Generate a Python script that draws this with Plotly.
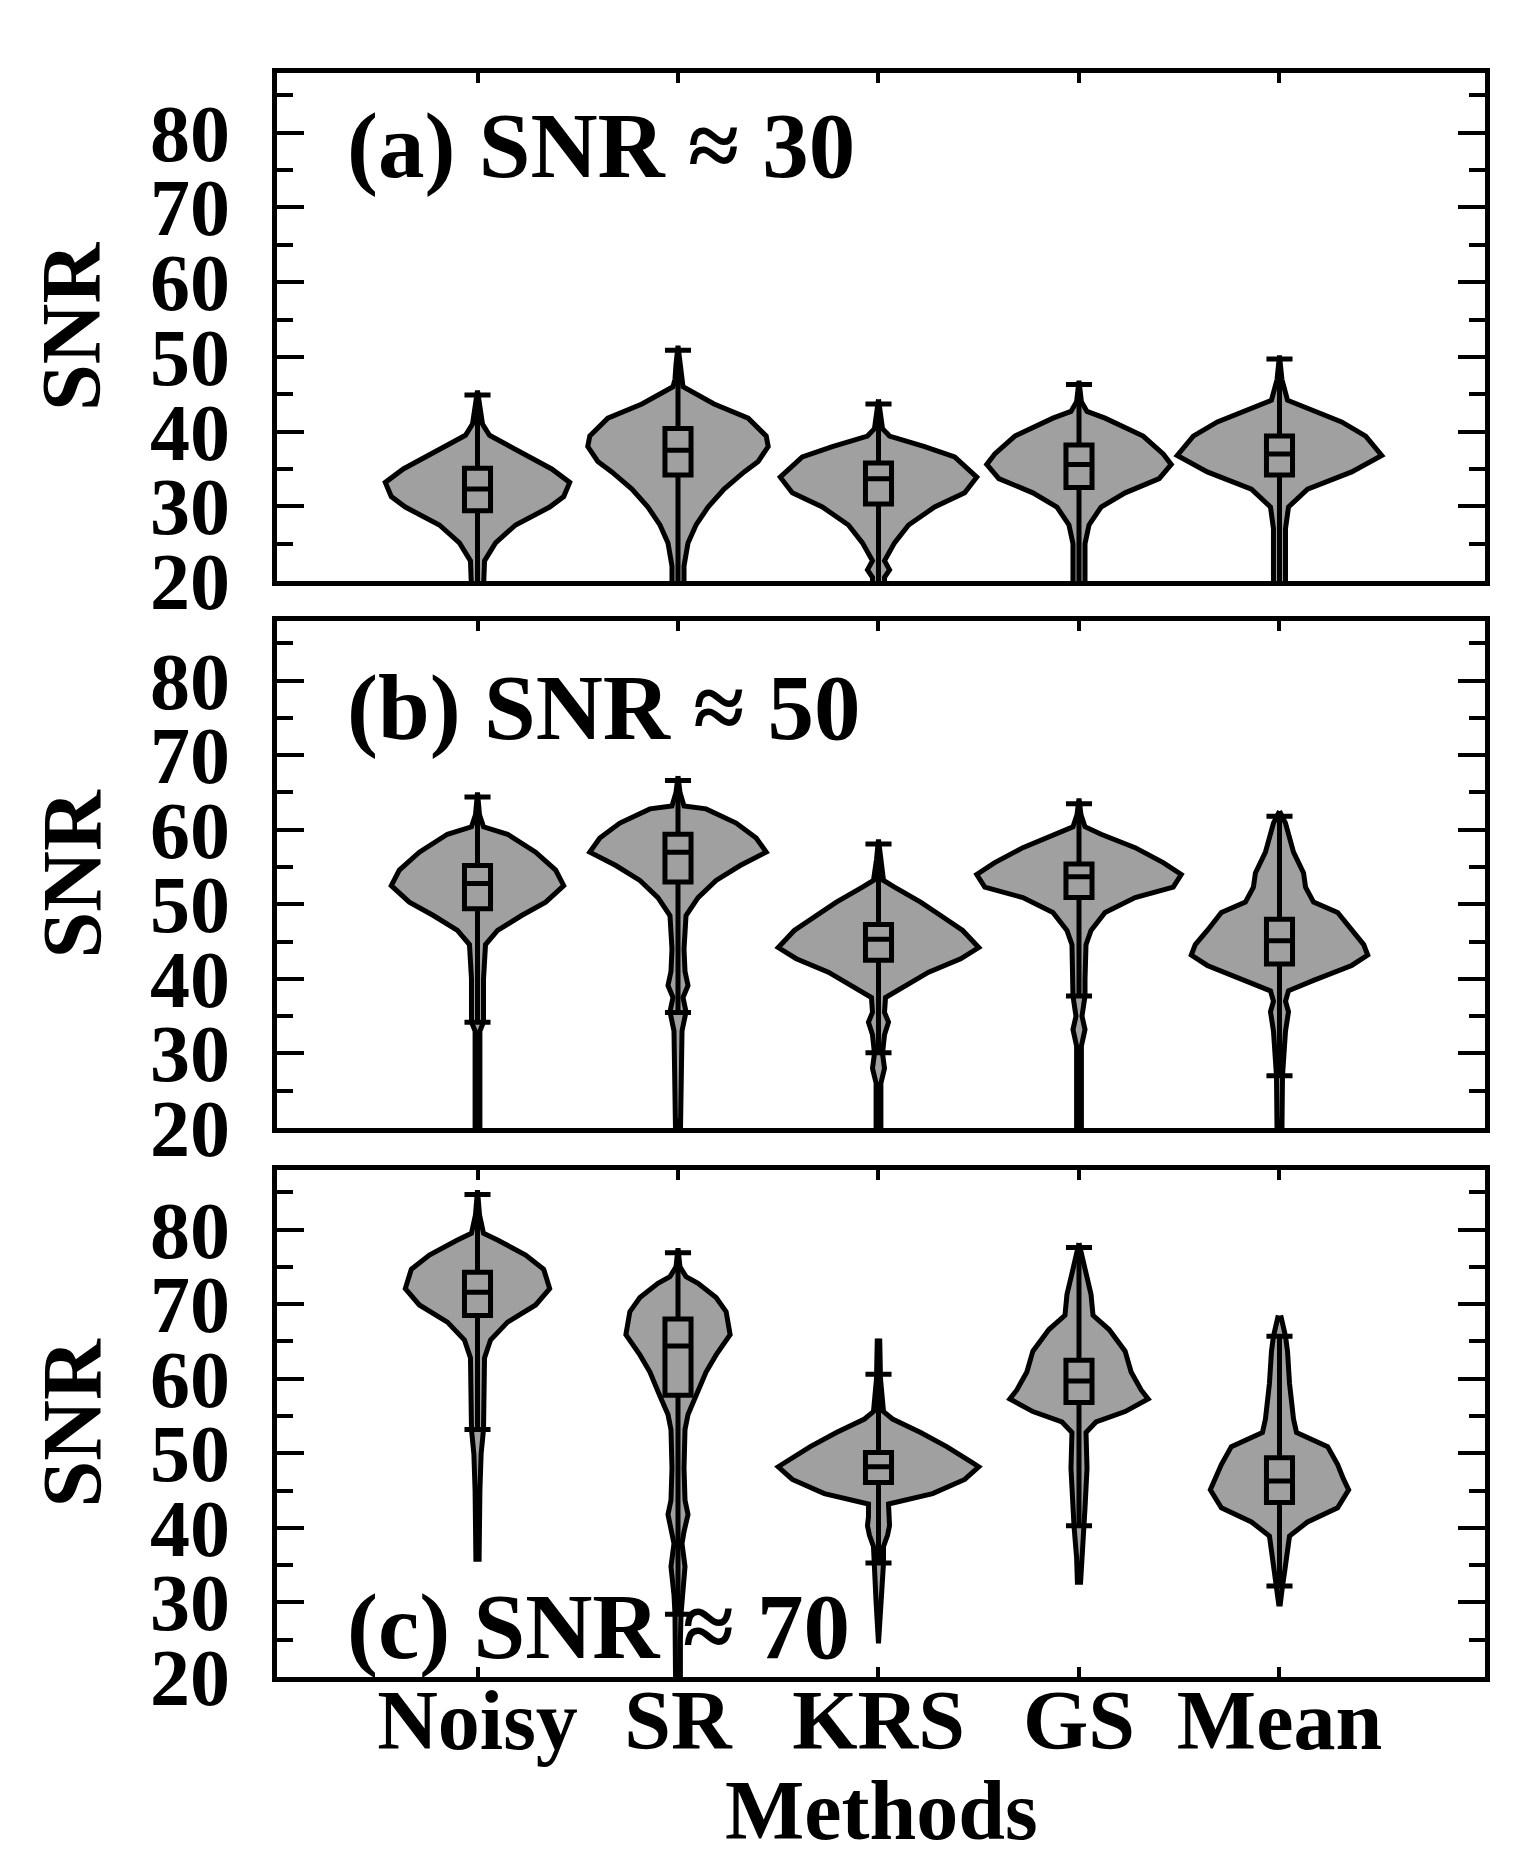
import plotly.graph_objects as go

methods = ["Noisy", "SR", "KRS", "GS", "Mean"]
panel_titles = ["(a) SNR ≈ 30", "(b) SNR ≈ 50", "(c) SNR ≈ 70"]
y_ticks = [20, 30, 40, 50, 60, 70, 80]

# ---- violin outlines: SNR level and half-width (in category units)
# panel (a) SNR ~ 30
a_noisy_y = [45.5, 43, 41, 39.5, 37, 35, 33.2, 31.3, 29.9, 27.5, 25.1, 22.7, 19]
a_noisy_w = [0.0, 0.012, 0.025, 0.06, 0.23, 0.37, 0.46, 0.43, 0.36, 0.19, 0.09, 0.035, 0.03]
a_sr_y = [51.5, 49, 47, 46, 43.7, 41.8, 39.4, 38.0, 36.0, 34.6, 32.3, 29.9, 27.5, 25.1, 22, 19]
a_sr_w = [0.0, 0.01, 0.015, 0.025, 0.18, 0.35, 0.44, 0.45, 0.40, 0.33, 0.23, 0.15, 0.09, 0.05, 0.03, 0.03]
a_krs_y = [44.3, 42, 40.4, 39.4, 38.0, 36.6, 33.9, 31.8, 29.9, 27.5, 25.1, 22.7, 21.5, 20.5, 19]
a_krs_w = [0.0, 0.01, 0.02, 0.055, 0.23, 0.38, 0.49, 0.43, 0.28, 0.15, 0.08, 0.03, 0.055, 0.03, 0.03]
a_gs_y = [46.8, 44, 42.7, 41.8, 39.4, 37.0, 35.6, 33.7, 31.8, 29.9, 27.5, 25, 19]
a_gs_w = [0.0, 0.012, 0.04, 0.13, 0.32, 0.42, 0.46, 0.40, 0.23, 0.11, 0.05, 0.03, 0.03]
a_mean_y = [50.2, 47, 44.2, 43.3, 41.3, 39.4, 36.8, 34.6, 32.3, 29.9, 27, 19]
a_mean_w = [0.0, 0.012, 0.04, 0.12, 0.31, 0.43, 0.51, 0.36, 0.14, 0.045, 0.03, 0.03]

# panel (b) SNR ~ 50
b_noisy_y = [65, 62, 60.4, 59.4, 57.0, 54.6, 52.5, 50.3, 48.5, 46.5, 44.6, 40, 34.2, 33, 19]
b_noisy_w = [0.0, 0.01, 0.03, 0.15, 0.29, 0.39, 0.43, 0.34, 0.22, 0.10, 0.04, 0.03, 0.03, 0.012, 0.012]
b_sr_y = [67.2, 65, 63.2, 62.8, 60.9, 58.9, 57.0, 55.2, 53.2, 50.9, 48.5, 44, 41, 39.1, 37.5, 35.6, 33, 28, 19]
b_sr_w = [0.0, 0.01, 0.03, 0.14, 0.29, 0.39, 0.44, 0.31, 0.19, 0.10, 0.04, 0.03, 0.035, 0.05, 0.025, 0.04, 0.02, 0.015, 0.012]
b_krs_y = [58.7, 56, 53.2, 52.3, 50.3, 48.5, 46.5, 44.2, 42.7, 40.9, 38.9, 37.5, 35.5, 34.2, 32.5, 30, 28, 26, 19]
b_krs_w = [0.0, 0.01, 0.025, 0.08, 0.21, 0.31, 0.42, 0.50, 0.41, 0.25, 0.12, 0.035, 0.03, 0.05, 0.03, 0.02, 0.03, 0.012, 0.012]
b_gs_y = [64.2, 62, 60.4, 59.4, 57.6, 55.6, 54.0, 52.3, 50.9, 48.9, 46.5, 44.6, 40, 37.7, 35, 33.2, 31, 19]
b_gs_w = [0.0, 0.01, 0.03, 0.11, 0.28, 0.42, 0.51, 0.47, 0.28, 0.13, 0.06, 0.035, 0.03, 0.03, 0.015, 0.03, 0.012, 0.012]
b_mean_y = [62.5, 60.9, 57.0, 54.2, 52.3, 50.3, 48.9, 46.5, 44.6, 43.2, 41.8, 39.8, 38.4, 37, 35.6, 33, 30, 27, 19]
b_mean_w = [0.0, 0.03, 0.07, 0.12, 0.13, 0.17, 0.29, 0.36, 0.42, 0.44, 0.36, 0.17, 0.045, 0.03, 0.045, 0.03, 0.025, 0.015, 0.012]

# panel (c) SNR ~ 70
c_noisy_y = [85.3, 82, 79.5, 78.6, 76.6, 74.7, 72.1, 69.9, 67.6, 65.2, 62.8, 58, 53.2, 49.9, 45, 35.8]
c_noisy_w = [0.0, 0.01, 0.03, 0.10, 0.24, 0.33, 0.36, 0.29, 0.15, 0.065, 0.035, 0.03, 0.03, 0.018, 0.012, 0.008]
c_sr_y = [77.5, 75, 73.7, 72.8, 70.9, 69.0, 65.9, 63.2, 60.9, 58.0, 55.2, 53.2, 48, 43.7, 41.8, 39.5, 37.9, 34.8, 31, 28.4, 25, 19]
c_sr_w = [0.0, 0.01, 0.04, 0.10, 0.19, 0.24, 0.26, 0.19, 0.14, 0.095, 0.05, 0.035, 0.03, 0.035, 0.05, 0.03, 0.02, 0.035, 0.02, 0.015, 0.012, 0.012]
c_krs_y = [65.4, 60, 55.6, 54.6, 52.8, 50.9, 48.9, 48.2, 46.5, 44.6, 43.2, 41.5, 40.3, 39, 37.5, 35.3, 30, 24.5]
c_krs_w = [0.006, 0.01, 0.025, 0.07, 0.21, 0.34, 0.46, 0.50, 0.43, 0.27, 0.05, 0.05, 0.055, 0.045, 0.025, 0.025, 0.012, 0.0]
c_gs_y = [78.2, 74.7, 71.3, 68.5, 66.6, 63.7, 60.9, 58.5, 57.3, 55.6, 54.2, 52.8, 48, 42.7, 40.3, 36, 32.7]
c_gs_w = [0.0, 0.03, 0.06, 0.07, 0.15, 0.23, 0.26, 0.31, 0.345, 0.23, 0.085, 0.035, 0.04, 0.03, 0.025, 0.012, 0.008]
c_mean_y = [68.5, 65.7, 63.7, 59.4, 54.6, 52.8, 50.9, 48.5, 46.5, 45.1, 42.7, 40.8, 38.9, 36.5, 34, 32.2, 29.8]
c_mean_w = [0.006, 0.03, 0.04, 0.05, 0.07, 0.085, 0.24, 0.29, 0.32, 0.345, 0.29, 0.14, 0.05, 0.035, 0.025, 0.015, 0.004]

# ---- box statistics (q3, median, q1, upper whisker, lower whisker)
a_q3 = [35.1, 40.4, 35.8, 38.2, 39.4]
a_med = [32.3, 37.5, 33.7, 35.6, 37.0]
a_q1 = [29.4, 34.2, 30.3, 32.5, 34.2]
a_up = [44.9, 50.9, 43.7, 46.3, 49.7]
a_lo = [19, 19, 19, 19, 19]

b_q3 = [55.2, 59.4, 47.3, 55.4, 48.0]
b_med = [52.8, 57.0, 45.3, 53.7, 45.1]
b_q1 = [49.4, 53.0, 42.5, 50.9, 42.0]
b_up = [64.4, 66.6, 58.1, 63.5, 61.8]
b_lo = [34.2, 35.5, 30.1, 37.7, 27.0]

c_q3 = [74.3, 68.0, 50.1, 62.5, 49.4]
c_med = [71.6, 64.4, 48.2, 59.7, 46.3]
c_q1 = [68.5, 57.8, 46.1, 56.8, 43.4]
c_up = [84.7, 76.9, 60.6, 77.6, 65.7]
c_lo = [53.2, 28.4, 35.3, 40.3, 32.2]

panels = [
    {
        "violins": [(a_noisy_y, a_noisy_w), (a_sr_y, a_sr_w), (a_krs_y, a_krs_w), (a_gs_y, a_gs_w), (a_mean_y, a_mean_w)],
        "box": (a_q1, a_med, a_q3, a_lo, a_up),
    },
    {
        "violins": [(b_noisy_y, b_noisy_w), (b_sr_y, b_sr_w), (b_krs_y, b_krs_w), (b_gs_y, b_gs_w), (b_mean_y, b_mean_w)],
        "box": (b_q1, b_med, b_q3, b_lo, b_up),
    },
    {
        "violins": [(c_noisy_y, c_noisy_w), (c_sr_y, c_sr_w), (c_krs_y, c_krs_w), (c_gs_y, c_gs_w), (c_mean_y, c_mean_w)],
        "box": (c_q1, c_med, c_q3, c_lo, c_up),
    },
]

FONT = "Liberation Serif, Times New Roman, serif"
GRAY = "#A0A0A0"
X_RANGE = [-1, 5.025]
Y_RANGE = [20, 88]

# small page offset compensation
OFF = 4
W, H = 1519 - OFF, 1875 - OFF
P_LEFT, P_RIGHT, P_TOP, P_BOT = 273, 1481, 69, 1673  # page pixels of the plot area
ML, MR, MT, MB = P_LEFT - OFF, W - (P_RIGHT - OFF), P_TOP - OFF, H - (P_BOT - OFF)
plot_h = P_BOT - P_TOP
plot_w = P_RIGHT - P_LEFT
frames = [(69, 577), (617, 1124), (1166, 1673)]  # page pixels (top, bottom)


def py(v):
    return (P_BOT - v) / plot_h


def px(v):
    return (v - P_LEFT) / plot_w


fig = go.Figure()

for p, panel in enumerate(panels):
    ax = "" if p == 0 else str(p + 1)
    xa, ya = "x" + ax, "y" + ax
    for i, (ys, ws) in enumerate(panel["violins"]):
        xs = [i + w for w in ws] + [i - w for w in reversed(ws)]
        yy = list(ys) + list(reversed(ys))
        fig.add_trace(go.Scatter(
            x=xs, y=yy, mode="lines", fill="toself", fillcolor=GRAY,
            line=dict(color="black", width=5), xaxis=xa, yaxis=ya,
            hoverinfo="skip", showlegend=False,
        ))
    # boxes go on an overlaying subplot so they are drawn above the violins
    ob = str(p + 4)
    q1, med, q3, lo, up = panel["box"]
    fig.add_trace(go.Box(
        x=list(range(len(methods))), q1=q1, median=med, q3=q3,
        lowerfence=lo, upperfence=up, orientation="v",
        width=0.13, whiskerwidth=1, boxpoints=False,
        fillcolor="rgba(0,0,0,0)", line=dict(color="black", width=5),
        xaxis="x" + ob, yaxis="y" + ob, showlegend=False,
    ))

layout = dict(
    width=W, height=H, plot_bgcolor="white", paper_bgcolor="white",
    margin=dict(l=ML, r=MR, t=MT, b=MB), showlegend=False,
    font=dict(family=FONT, color="black"),
)

for p in range(3):
    ax = "" if p == 0 else str(p + 1)
    ob = str(p + 4)
    top, bot = frames[p]
    layout["xaxis" + ax] = dict(
        domain=[0, 1], range=X_RANGE, anchor="y" + ax,
        tickvals=list(range(len(methods))), ticktext=methods,
        showticklabels=(p == 2), ticks="inside", ticklen=10, tickwidth=4, tickcolor="black",
        showline=True, linewidth=5, linecolor="black", mirror="ticks",
        showgrid=False, zeroline=False,
        tickfont=dict(family=FONT, size=84, color="black", weight="bold"),
        ticklabelstandoff=-34,
    )
    layout["yaxis" + ax] = dict(
        domain=[py(bot), py(top)], range=Y_RANGE, anchor="x" + ax,
        tickvals=y_ticks, ticks="inside", ticklen=27, tickwidth=4, tickcolor="black",
        minor=dict(dtick=5, tick0=20, ticks="inside", ticklen=16, tickwidth=4, tickcolor="black"),
        showline=True, linewidth=5, linecolor="black", mirror="ticks",
        showgrid=False, zeroline=False,
        tickfont=dict(family=FONT, size=80, color="black", weight="bold"),
        ticklabelstandoff=26,
    )
    layout["xaxis" + ob] = dict(
        overlaying="x" + ax, anchor="y" + ob, range=X_RANGE, visible=False,
        showgrid=False, zeroline=False,
    )
    layout["yaxis" + ob] = dict(
        overlaying="y" + ax, anchor="x" + ob, range=Y_RANGE, visible=False,
        showgrid=False, zeroline=False,
    )

annotations = []
title_centers = [142, 704, 1622]
for p in range(3):
    top, bot = frames[p]
    annotations.append(dict(
        text="SNR", textangle=-90, xref="paper", yref="paper",
        x=px(68), y=py((top + bot) / 2), xanchor="center", yanchor="middle",
        showarrow=False, font=dict(family=FONT, size=84, color="black", weight="bold"),
    ))
    annotations.append(dict(
        text=panel_titles[p], xref="paper", yref="paper",
        x=px(341), y=py(title_centers[p]), xanchor="left", yanchor="middle",
        showarrow=False, font=dict(family=FONT, size=93, color="black", weight="bold"),
    ))
annotations.append(dict(
    text="Methods", xref="paper", yref="paper",
    x=0.5, y=py(1806), xanchor="center", yanchor="middle",
    showarrow=False, font=dict(family=FONT, size=84, color="black", weight="bold"),
))
layout["annotations"] = annotations

fig.update_layout(**layout)
fig.write_html("out.html")
